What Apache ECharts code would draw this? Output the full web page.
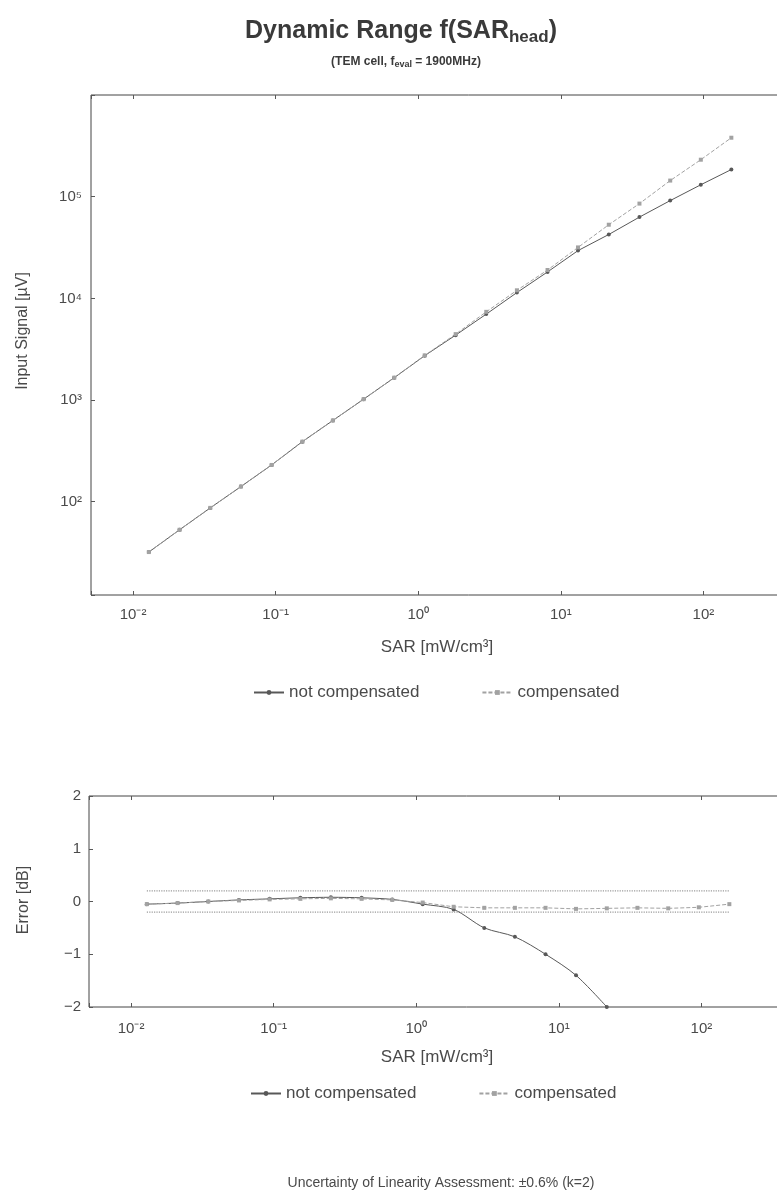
<!DOCTYPE html>
<html>
<head>
<meta charset="utf-8">
<script src="https://cdn.jsdelivr.net/npm/echarts@6/dist/echarts.min.js"></script>
<style>
  html, body { margin: 0; padding: 0; background: #ffffff; overflow: hidden; }
  /* The plot frames run past the right edge of the page, so the canvas is wider than the window */
  #chart { width: 880px; height: 1194px; }
</style>
</head>
<body>
<div id="chart"></div>
<script>
// SAR steps of the linearity sweep [mW/cm³]
const sar = [0.0129, 0.0212, 0.0348, 0.0571, 0.0937, 0.154, 0.252, 0.414, 0.679, 1.11,
             1.83, 3.00, 4.92, 8.07, 13.2, 21.7, 35.6, 58.5, 95.9, 157];

// Probe input signal [µV]
const signalNotCompensated = [32, 53, 87, 141, 230, 390, 630, 1020, 1660, 2730,
                              4350, 7000, 11400, 18200, 29500, 42500, 63000, 91500, 131000, 185000];
const signalCompensated = [32, 53, 87, 141, 230, 390, 630, 1020, 1660, 2750,
                           4450, 7370, 12000, 19000, 31700, 53000, 85500, 144000, 231000, 380000];

// Linearity error [dB]; the uncompensated curve leaves the plot below -2 dB
const errorNotCompensated = [-0.05, -0.03, 0.00, 0.03, 0.05, 0.07, 0.08, 0.07, 0.04, -0.05,
                             -0.15, -0.50, -0.67, -1.00, -1.40, -2.00];
const errorCompensated = [-0.05, -0.03, 0.00, 0.02, 0.04, 0.05, 0.06, 0.05, 0.03, -0.02,
                          -0.10, -0.12, -0.12, -0.12, -0.14, -0.13, -0.12, -0.13, -0.11, -0.05];

// Tolerance band [dB]
const errorBand = [0.2, -0.2];

// Axis extents and labelled decades
const sarRange = [0.00507, 1000];
const signalRange = [12.1, 1e6];
const sarLabelExponents = [-2, -1, 0, 1, 2];
const signalLabelExponents = [2, 3, 4, 5];
const errorTicks = [-2, -1, 0, 1, 2];

const FONT = '"Liberation Sans", Arial, Helvetica, sans-serif';
const TEXT = '#4a4a4a';
const DARK = '#585858';
const LIGHT = '#a2a2a2';

const SUP = { '-': '\u207B', '0': '\u2070', '1': '\u00B9', '2': '\u00B2', '3': '\u00B3',
              '4': '\u2074', '5': '\u2075', '6': '\u2076', '7': '\u2077', '8': '\u2078', '9': '\u2079' };
function powerLabeller(exponents) {
  return function (v) {
    const l = Math.log10(v);
    const r = Math.round(l);
    if (Math.abs(l - r) > 1e-6 || exponents.indexOf(r) < 0) return '';
    return '10' + String(r).split('').map(c => SUP[c]).join('');
  };
}

const pairs = (xs, ys) => ys.map((y, i) => [xs[i], y]);

function logX(gridIndex, position, showLabels, margin) {
  return {
    type: 'log', gridIndex, position,
    min: sarRange[0], max: sarRange[1], splitNumber: 5,
    axisLine: { show: false, onZero: false },
    axisTick: { show: true, inside: true, length: 4, lineStyle: { color: DARK } },
    axisLabel: { show: showLabels, formatter: powerLabeller(sarLabelExponents), color: TEXT, fontFamily: FONT,
                 fontSize: 15, margin: margin },
    splitLine: { show: false }
  };
}

const dataSeriesStyle = {
  notComp: { lineStyle: { color: DARK, width: 1 }, itemStyle: { color: DARK }, symbol: 'circle', symbolSize: 4 },
  comp: { lineStyle: { color: LIGHT, width: 1, type: [4, 2] }, itemStyle: { color: LIGHT }, symbol: 'rect', symbolSize: 4 }
};

const legendBase = {
  itemWidth: 30, itemHeight: 6, itemGap: 62,
  data: ['not compensated', 'compensated'],
  textStyle: { color: TEXT, fontFamily: FONT, fontSize: 17 }
};

const option = {
  backgroundColor: '#ffffff',
  animation: false,
  textStyle: { fontFamily: FONT },
  title: [
    {
      text: '{m|Dynamic Range f(SAR}{s|head}{m|)}',
      left: 396, top: 12, textAlign: 'center',
      textStyle: {
        rich: {
          m: { fontFamily: FONT, fontSize: 25, fontWeight: 'bold', color: '#3a3a3a' },
          s: { fontFamily: FONT, fontSize: 17, fontWeight: 'bold', color: '#3a3a3a', padding: [12, 0, 0, 0] }
        }
      }
    },
    {
      text: '{m|(TEM cell, f}{s|eval}{m| = 1900MHz)}',
      left: 401, top: 49, textAlign: 'center',
      textStyle: {
        rich: {
          m: { fontFamily: FONT, fontSize: 12, fontWeight: 'bold', color: '#3a3a3a' },
          s: { fontFamily: FONT, fontSize: 9, fontWeight: 'bold', color: '#3a3a3a', padding: [6, 0, 0, 0] }
        }
      }
    }
  ],
  grid: [
    { left: 91, top: 95, width: 755, height: 500, show: true, borderColor: '#444', borderWidth: 1, backgroundColor: 'transparent' },
    { left: 89, top: 796, width: 755, height: 211, show: true, borderColor: '#444', borderWidth: 1, backgroundColor: 'transparent' }
  ],
  xAxis: [
    logX(0, 'bottom', true, 12),
    logX(0, 'top', false, 8),
    logX(1, 'bottom', true, 14),
    logX(1, 'top', false, 8)
  ],
  yAxis: [
    {
      type: 'log', gridIndex: 0, min: signalRange[0], max: signalRange[1], splitNumber: 5,
      axisLine: { show: false, onZero: false },
      axisTick: { show: true, inside: true, length: 4, lineStyle: { color: DARK } },
      axisLabel: { formatter: powerLabeller(signalLabelExponents), color: TEXT, fontFamily: FONT, fontSize: 15, margin: 9 },
      splitLine: { show: false }
    },
    {
      type: 'value', gridIndex: 1, min: errorTicks[0], max: errorTicks[errorTicks.length - 1], interval: 1,
      axisLine: { show: false, onZero: false },
      axisTick: { show: true, inside: true, length: 4, lineStyle: { color: DARK } },
      axisLabel: { color: TEXT, fontFamily: FONT, fontSize: 15, margin: 8,
                   formatter: v => (v < 0 ? '\u2212' + Math.abs(v) : String(v)) },
      splitLine: { show: false }
    }
  ],
  legend: [
    Object.assign({ left: 248, top: 679 }, legendBase),
    Object.assign({ left: 245, top: 1080 }, legendBase)
  ],
  graphic: [
    { type: 'text', x: 437, y: 647,
      style: { text: 'SAR [mW/cm\u00B3]', fill: TEXT, font: '17px ' + FONT, align: 'center', verticalAlign: 'middle' } },
    { type: 'text', x: 437, y: 1057,
      style: { text: 'SAR [mW/cm\u00B3]', fill: TEXT, font: '17px ' + FONT, align: 'center', verticalAlign: 'middle' } },
    { type: 'text', x: 23, y: 331, rotation: Math.PI / 2,
      style: { text: 'Input Signal [\u00B5V]', fill: TEXT, font: '16px ' + FONT, align: 'center', verticalAlign: 'middle' } },
    { type: 'text', x: 24, y: 900, rotation: Math.PI / 2,
      style: { text: 'Error [dB]', fill: TEXT, font: '16px ' + FONT, align: 'center', verticalAlign: 'middle' } },
    { type: 'text', x: 441, y: 1183,
      style: { text: 'Uncertainty of Linearity Assessment: \u00B10.6% (k=2)', fill: TEXT, font: '14px ' + FONT,
               align: 'center', verticalAlign: 'middle' } }
  ],
  series: [
    Object.assign({ name: 'not compensated', type: 'line', xAxisIndex: 0, yAxisIndex: 0,
                    data: pairs(sar, signalNotCompensated) }, dataSeriesStyle.notComp),
    Object.assign({ name: 'compensated', type: 'line', xAxisIndex: 0, yAxisIndex: 0,
                    data: pairs(sar, signalCompensated) }, dataSeriesStyle.comp),
    {
      name: 'band+', type: 'line', xAxisIndex: 2, yAxisIndex: 1, silent: true, showSymbol: false,
      data: [[sar[0], errorBand[0]], [sar[sar.length - 1], errorBand[0]]],
      lineStyle: { color: '#9a9a9a', width: 1.2, type: 'dotted' }
    },
    {
      name: 'band-', type: 'line', xAxisIndex: 2, yAxisIndex: 1, silent: true, showSymbol: false,
      data: [[sar[0], errorBand[1]], [sar[sar.length - 1], errorBand[1]]],
      lineStyle: { color: '#9a9a9a', width: 1.2, type: 'dotted' }
    },
    Object.assign({ name: 'not compensated', type: 'line', xAxisIndex: 2, yAxisIndex: 1, smooth: 0.3,
                    data: pairs(sar, errorNotCompensated) }, dataSeriesStyle.notComp),
    Object.assign({ name: 'compensated', type: 'line', xAxisIndex: 2, yAxisIndex: 1,
                    data: pairs(sar, errorCompensated) }, dataSeriesStyle.comp)
  ]
};

const chart = echarts.init(document.getElementById('chart'), null, { renderer: 'canvas' });
chart.setOption(option);
</script>
</body>
</html>
